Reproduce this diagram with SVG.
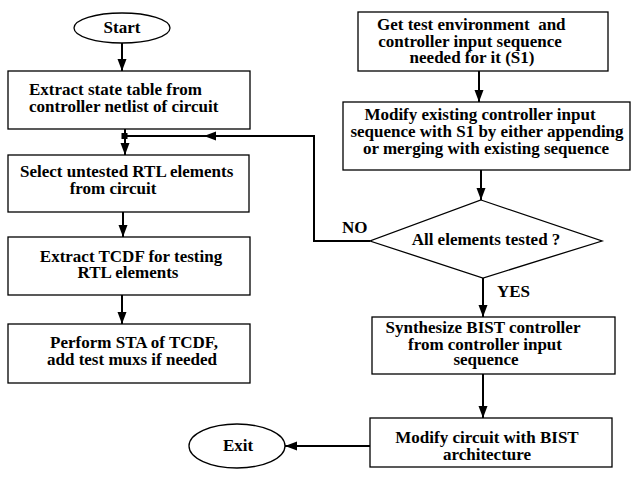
<svg xmlns="http://www.w3.org/2000/svg" width="631" height="477" viewBox="0 0 631 477">
<defs>
<style>
.box{fill:#fff;stroke:#000;stroke-width:1.3}
.t{font-family:"Liberation Serif","Times New Roman",serif;font-weight:bold;font-size:17px;fill:#000}
.m{text-anchor:middle}
.c{fill:none;stroke:#000;stroke-width:2}
</style>
<marker id="ah" markerUnits="userSpaceOnUse" markerWidth="13" markerHeight="10" refX="12" refY="4.5" orient="auto">
<path d="M0,0 L12,4.5 L0,9 z" fill="#000"/>
</marker>
</defs>
<rect width="631" height="477" fill="#fff"/>
<g id="connectors">
<line class="c" x1="122" y1="43" x2="122" y2="71" marker-end="url(#ah)"/>
<line class="c" x1="125" y1="129" x2="125" y2="155" marker-end="url(#ah)"/>
<line class="c" x1="123" y1="212" x2="123" y2="237" marker-end="url(#ah)"/>
<line class="c" x1="122" y1="295" x2="122" y2="324" marker-end="url(#ah)"/>
<line class="c" x1="479" y1="71" x2="479" y2="102" marker-end="url(#ah)"/>
<line class="c" x1="481" y1="170" x2="481" y2="200" marker-end="url(#ah)"/>
<polyline class="c" points="370,241 314,241 314,136 204,136"  marker-end="url(#ah)"/>
<line class="c" x1="206" y1="136" x2="125" y2="136"/>
<rect x="121.5" y="133" width="6" height="6" fill="#000"/>
<line class="c" x1="483" y1="278" x2="483" y2="317" marker-end="url(#ah)"/>
<line class="c" x1="483" y1="374" x2="483" y2="418" marker-end="url(#ah)"/>
<line class="c" x1="370" y1="446" x2="285" y2="446" marker-end="url(#ah)"/>
<text class="t" x="342" y="233">NO</text>
<text class="t" x="497" y="297">YES</text>
</g>
<g id="start">
<ellipse class="box" cx="122" cy="28" rx="48" ry="15"/>
<text class="t m" x="122" y="33">Start</text>
</g>
<g id="extract-state">
<rect class="box" x="8" y="71" width="242" height="58"/>
<text class="t" x="29" y="95">Extract state table from</text>
<text class="t" x="29" y="112">controller netlist of circuit</text>
</g>
<g id="select-untested">
<rect class="box" x="8" y="155" width="241" height="57"/>
<text class="t" x="20" y="177">Select untested RTL elements</text>
<text class="t m" x="113" y="194">from circuit</text>
</g>
<g id="extract-tcdf">
<rect class="box" x="8" y="237" width="242" height="58"/>
<text class="t m" x="131" y="262">Extract TCDF for testing</text>
<text class="t m" x="128" y="278">RTL elements</text>
</g>
<g id="perform-sta">
<rect class="box" x="8" y="324" width="242" height="59"/>
<text class="t m" x="134" y="348">Perform STA of TCDF,</text>
<text class="t m" x="132" y="365">add test muxs if needed</text>
</g>
<g id="get-test">
<rect class="box" x="358" y="12" width="250" height="59"/>
<text class="t" x="377" y="30" xml:space="preserve">Get test environment  and</text>
<text class="t m" x="470" y="47">controller input sequence</text>
<text class="t m" x="472" y="63">needed for it (S1)</text>
</g>
<g id="modify-sequence">
<rect class="box" x="343" y="102" width="287" height="68"/>
<text class="t m" x="480" y="120">Modify existing controller input</text>
<text class="t m" x="487" y="137">sequence with S1 by either appending</text>
<text class="t m" x="486" y="154">or merging with existing sequence</text>
</g>
<g id="all-tested">
<polygon class="box" points="481,200 602,241 483,278 370,241"/>
<text class="t m" x="486" y="245">All elements tested ?</text>
</g>
<g id="synthesize">
<rect class="box" x="372" y="317" width="243" height="57"/>
<text class="t m" x="483" y="333">Synthesize BIST controller</text>
<text class="t m" x="485" y="350">from controller input</text>
<text class="t m" x="486" y="365">sequence</text>
</g>
<g id="modify-circuit">
<rect class="box" x="370" y="418" width="242" height="49"/>
<text class="t m" x="487" y="443">Modify circuit with BIST</text>
<text class="t m" x="487" y="460">architecture</text>
</g>
<g id="exit">
<ellipse class="box" cx="237" cy="446" rx="48" ry="22"/>
<text class="t m" x="238" y="451">Exit</text>
</g>
</svg>
